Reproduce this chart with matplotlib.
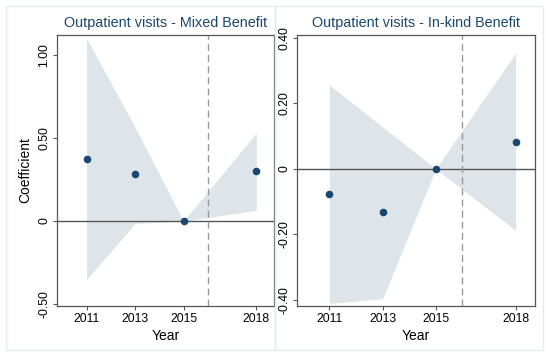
import numpy as np
import matplotlib
matplotlib.use("Agg")
import matplotlib.pyplot as plt
from matplotlib.patches import Rectangle

plt.rcParams['font.family'] = ['Liberation Sans', 'DejaVu Sans']

years = [2011, 2013, 2015, 2018]
xtick_labels = ["2011", "2013", "2015", "2018"]

# Mixed benefit
mixed_coef = [0.372, 0.281, 0.0, 0.30]
mixed_lo = [-0.353, -0.015, 0.0, 0.064]
mixed_hi = [1.10, 0.565, 0.0, 0.53]
mixed_yticks = [-0.5, 0.0, 0.5, 1.0]
mixed_ylabels = ["-0.50", "0", "0.50", "1.00"]

# In-kind benefit
inkind_coef = [-0.076, -0.132, 0.0, 0.083]
inkind_lo = [-0.41, -0.396, 0.0, -0.188]
inkind_hi = [0.256, 0.128, 0.0, 0.353]
inkind_yticks = [-0.4, -0.2, 0.0, 0.2, 0.4]
inkind_ylabels = ["-0.40", "-0.20", "0", "0.20", "0.40"]

navy = "#1a476f"
band = "#dde5ea"
W, H = 550, 357


def panel(ax, coef, lo, hi, yticks, ylabels, ylim, title, ylabel=None):
    ax.fill_between(years, lo, hi, color=band, linewidth=0, zorder=1)
    ax.axhline(0, color="#555555", linewidth=1.0, zorder=2)
    ax.axvline(2016, color="#999999", linewidth=1.0, linestyle=(0, (5, 3)), zorder=2)
    ax.scatter(years, coef, s=20, color=navy, zorder=3)
    ax.set_xlim(2009.78, 2018.73)
    ax.set_ylim(*ylim)
    ax.set_xticks(years)
    ax.set_xticklabels(xtick_labels, fontsize=8.8)
    ax.set_yticks(yticks)
    ax.set_yticklabels(ylabels, fontsize=8.8, rotation=90, va="center")
    ax.set_xlabel("Year", fontsize=10, labelpad=3)
    if ylabel:
        ax.set_ylabel(ylabel, fontsize=10, labelpad=4)
    ax.set_title(title, fontsize=10.4, color=navy, pad=6)
    for s in ax.spines.values():
        s.set_color("#555555")
        s.set_linewidth(0.9)
    ax.tick_params(colors="#555555", labelcolor="black", length=3, width=0.8, pad=2)


fig = plt.figure(figsize=(5.5, 3.57), dpi=100)
fig.patch.set_facecolor("white")

# light outer panel boxes
for x0, x1 in [(6, 275), (275, 543)]:
    fig.patches.append(Rectangle((x0 / W, 1 - 350 / H), (x1 - x0) / W, (350 - 6) / H,
                                 transform=fig.transFigure, fill=False,
                                 edgecolor="#e3ecef", linewidth=1.0))

ax1 = fig.add_axes([57 / W, 1 - 306 / H, (274 - 57) / W, (306 - 35) / H])
panel(ax1, mixed_coef, mixed_lo, mixed_hi, mixed_yticks, mixed_ylabels,
      (-0.512, 1.12), "Outpatient visits - Mixed Benefit", "Coefficient")

ax2 = fig.add_axes([297 / W, 1 - 306 / H, (535 - 297) / W, (306 - 35) / H])
panel(ax2, inkind_coef, inkind_lo, inkind_hi, inkind_yticks, inkind_ylabels,
      (-0.418, 0.408), "Outpatient visits - In-kind Benefit")

fig.savefig("out.png", dpi=100, facecolor="white")
